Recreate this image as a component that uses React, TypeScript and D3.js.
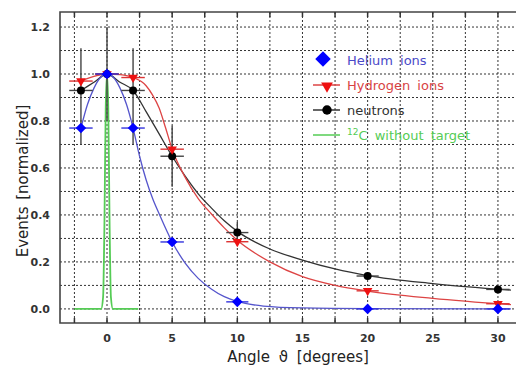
import React, { useEffect, useRef } from "react";
import * as d3 from "d3";

// measured points
const angles = [-2, 0, 2, 5, 10, 20, 30];
const angleErr = [0.9, 0.9, 0.9, 0.9, 0.85, 0.85, 0.9];
const heliumVals = [0.77, 1.0, 0.77, 0.285, 0.03, 0.0, 0.0];
const hydrogenVals = [0.97, 1.0, 0.985, 0.68, 0.286, 0.077, 0.022];
const neutronVals = [0.93, 1.0, 0.93, 0.65, 0.325, 0.14, 0.083];
const neutronErrLo = [0.7, 0.8, 0.7, 0.52, 0.28, 0.13, 0.076];
const neutronErrHi = [1.11, 1.2, 1.11, 0.78, 0.37, 0.15, 0.09];

// fitted curves [angle, value]
const heliumFit: [number, number][] = [
  [-2, 0.77], [-1.5, 0.87], [-1, 0.94], [-0.5, 0.985], [0, 1], [0.5, 0.985], [1, 0.94],
  [1.5, 0.87], [2, 0.77], [2.5, 0.65], [3, 0.55], [3.5, 0.47], [4, 0.405], [5, 0.285],
  [6, 0.195], [7, 0.13], [8, 0.085], [9, 0.052], [10, 0.032], [12, 0.012], [15, 0.004],
  [20, 0.001], [31, 0],
];
const hydrogenFit: [number, number][] = [
  [-2, 0.97], [-1, 0.99], [0, 1], [1, 0.997], [2, 0.985], [3, 0.95], [3.5, 0.91],
  [4, 0.855], [4.5, 0.77], [5, 0.68], [6, 0.56], [7, 0.47], [8, 0.405], [9, 0.345],
  [10, 0.292], [12.5, 0.2], [15, 0.137], [17.5, 0.1], [20, 0.076], [25, 0.045], [31, 0.018],
];
const neutronFit: [number, number][] = [
  [-2, 0.93], [-1, 0.965], [0, 1], [1, 0.965], [2, 0.93], [3, 0.84], [4, 0.745],
  [5, 0.65], [6, 0.565], [7, 0.49], [8, 0.43], [9, 0.375], [10, 0.33], [12.5, 0.255],
  [15, 0.208], [17.5, 0.17], [20, 0.142], [25, 0.108], [31, 0.08],
];
const carbonNoTarget: [number, number][] = [
  [-2.5, 0], [-0.45, 0], [-0.3, 0.05], [-0.2, 0.35], [-0.1, 0.85], [0, 1], [0.1, 0.85],
  [0.2, 0.35], [0.3, 0.05], [0.45, 0], [2.4, 0],
];

const xTicks = [0, 5, 10, 15, 20, 25, 30];
const yTicks = [0, 0.2, 0.4, 0.6, 0.8, 1.0, 1.2];

const App = () => {
  const svgRef = useRef<SVGSVGElement | null>(null);

  useEffect(() => {
    const width = 516;
    const height = 367;
    const svg = d3.select(svgRef.current);
    svg.selectAll("*").remove();

    const x = d3.scaleLinear().domain([-3.607, 32]).range([60, 524]);
    const y = d3.scaleLinear().domain([-0.06, 1.264]).range([323, 12]);
    const font = "'DejaVu Sans', sans-serif";

    svg.append("rect").attr("width", width).attr("height", height).attr("fill", "#fff");

    // dotted grid
    const gx = d3.range(-2.5, 32, 2.5);
    const gy = d3.range(0, 13).map(i => i / 10);
    svg.append("g").selectAll("line").data(gx).enter().append("line")
      .attr("x1", d => x(d)).attr("x2", d => x(d))
      .attr("y1", y.range()[1]).attr("y2", y.range()[0])
      .attr("stroke", "#333").attr("stroke-width", 1).attr("stroke-dasharray", "2,2");
    svg.append("g").selectAll("line").data(gy).enter().append("line")
      .attr("x1", 60).attr("x2", width)
      .attr("y1", d => y(d)).attr("y2", d => y(d))
      .attr("stroke", "#333").attr("stroke-width", 1).attr("stroke-dasharray", "2,2");

    // frame
    svg.append("path")
      .attr("d", `M${width},12 H60 V323 H${width}`)
      .attr("fill", "none").attr("stroke", "#444").attr("stroke-width", 1.6);
    const tk = svg.append("g").attr("stroke", "#333").attr("stroke-width", 1.5);
    gx.forEach(v => {
      tk.append("line").attr("x1", x(v)).attr("x2", x(v)).attr("y1", 323).attr("y2", 318);
      tk.append("line").attr("x1", x(v)).attr("x2", x(v)).attr("y1", 12).attr("y2", 17);
    });

    // tick labels
    svg.append("g").selectAll("text").data(xTicks).enter().append("text")
      .attr("x", d => x(d)).attr("y", 342)
      .attr("text-anchor", "middle")
      .style("font-family", font).style("font-size", "11px").style("font-weight", "bold")
      .style("fill", "#333").text(d => d);
    svg.append("g").selectAll("text").data(yTicks).enter().append("text")
      .attr("x", 50).attr("y", d => y(d) + 4)
      .attr("text-anchor", "end")
      .style("font-family", font).style("font-size", "11px").style("font-weight", "bold")
      .style("fill", "#333").text(d => d.toFixed(1));

    // axis titles
    svg.append("text")
      .attr("x", 298).attr("y", 362).attr("text-anchor", "middle")
      .style("font-family", font).style("font-size", "15px").style("fill", "#222")
      .style("word-spacing", "4px")
      .text("Angle ϑ [degrees]");
    svg.append("text")
      .attr("transform", "translate(28,181) rotate(-90)")
      .attr("text-anchor", "middle")
      .style("font-family", font).style("font-size", "15px").style("fill", "#222")
      .style("word-spacing", "2px")
      .text("Events [normalized]");

    // curves
    const line = d3.line<[number, number]>()
      .x(d => x(d[0])).y(d => y(d[1]))
      .curve(d3.curveMonotoneX);

    svg.append("path").datum(carbonNoTarget).attr("d", line)
      .attr("fill", "none").attr("stroke", "#55cc55").attr("stroke-width", 1.8);
    svg.append("path").datum(neutronFit).attr("d", line)
      .attr("fill", "none").attr("stroke", "#333").attr("stroke-width", 1.3);
    svg.append("path").datum(hydrogenFit).attr("d", line)
      .attr("fill", "none").attr("stroke", "#dd4444").attr("stroke-width", 1.3);
    svg.append("path").datum(heliumFit).attr("d", line)
      .attr("fill", "none").attr("stroke", "#5555cc").attr("stroke-width", 1.3);

    // error bars
    const drawErr = (vals: number[], color: string, lo?: number[], hi?: number[]) => {
      const g = svg.append("g").attr("stroke", color).attr("stroke-width", 1.4);
      angles.forEach((a, i) => {
        g.append("line")
          .attr("x1", x(a - angleErr[i])).attr("x2", x(a + angleErr[i]))
          .attr("y1", y(vals[i])).attr("y2", y(vals[i]));
        if (lo && hi) {
          g.append("line")
            .attr("x1", x(a)).attr("x2", x(a))
            .attr("y1", y(lo[i])).attr("y2", y(hi[i]));
        }
      });
    };
    drawErr(neutronVals, "#444", neutronErrLo, neutronErrHi);
    drawErr(hydrogenVals, "#dd3333");
    drawErr(heliumVals, "#3333dd");

    // markers
    const sym = (type: d3.SymbolType, size: number) => d3.symbol().type(type).size(size)() as string;
    svg.append("g").selectAll("path").data(angles).enter().append("path")
      .attr("d", sym(d3.symbolCircle, 50))
      .attr("transform", (d, i) => `translate(${x(d)},${y(neutronVals[i])})`)
      .attr("fill", "#000");
    svg.append("g").selectAll("path").data(angles).enter().append("path")
      .attr("d", sym(d3.symbolTriangle, 40))
      .attr("transform", (d, i) => `translate(${x(d)},${y(hydrogenVals[i])}) rotate(180)`)
      .attr("fill", "#ee1111");
    svg.append("g").selectAll("path").data(angles).enter().append("path")
      .attr("d", sym(d3.symbolSquare, 56))
      .attr("transform", (d, i) => `translate(${x(d)},${y(heliumVals[i])}) rotate(45)`)
      .attr("fill", "#0000ff");

    // legend
    const legend = svg.append("g").style("font-family", font).style("font-size", "13px");
    const rows = [
      { label: "Helium ions", color: "#0000ff", text: "#4a4ac8", line: false, shape: "diamond", y: 60 },
      { label: "Hydrogen ions", color: "#ee1111", text: "#d84444", line: true, shape: "triangle", y: 85 },
      { label: "neutrons", color: "#000", text: "#333", line: true, shape: "circle", y: 110 },
      { label: "C without target", color: "#55cc55", text: "#55cc55", line: true, shape: "none", y: 135 },
    ];
    rows.forEach(r => {
      if (r.line) {
        legend.append("line").attr("x1", 313).attr("x2", 340)
          .attr("y1", r.y).attr("y2", r.y)
          .attr("stroke", r.shape === "triangle" ? "#dd4444" : r.shape === "circle" ? "#333" : r.color)
          .attr("stroke-width", 1.5);
      }
      if (r.shape === "diamond") {
        legend.append("path").attr("d", sym(d3.symbolSquare, 120))
          .attr("transform", `translate(323,${r.y - 1}) rotate(45)`).attr("fill", r.color);
      } else if (r.shape === "triangle") {
        legend.append("path").attr("d", sym(d3.symbolTriangle, 60))
          .attr("transform", `translate(327,${r.y + 1}) rotate(180)`).attr("fill", r.color);
      } else if (r.shape === "circle") {
        legend.append("path").attr("d", sym(d3.symbolCircle, 70))
          .attr("transform", `translate(327,${r.y})`).attr("fill", r.color);
      }
      const t = legend.append("text").attr("x", 347).attr("y", r.y + 5)
        .style("fill", r.text).style("word-spacing", "3px");
      if (r.shape === "none") {
        t.append("tspan").attr("dy", -5).style("font-size", "9px").text("12");
        t.append("tspan").attr("dy", 5).text(r.label);
      } else {
        t.text(r.label);
      }
    });
  }, []);

  return (
    <div style={{ position: "absolute", left: 0, top: 0, width: 516, height: 367 }}>
      <svg ref={svgRef} width={516} height={367} style={{ display: "block" }}></svg>
    </div>
  );
};

export default App;
